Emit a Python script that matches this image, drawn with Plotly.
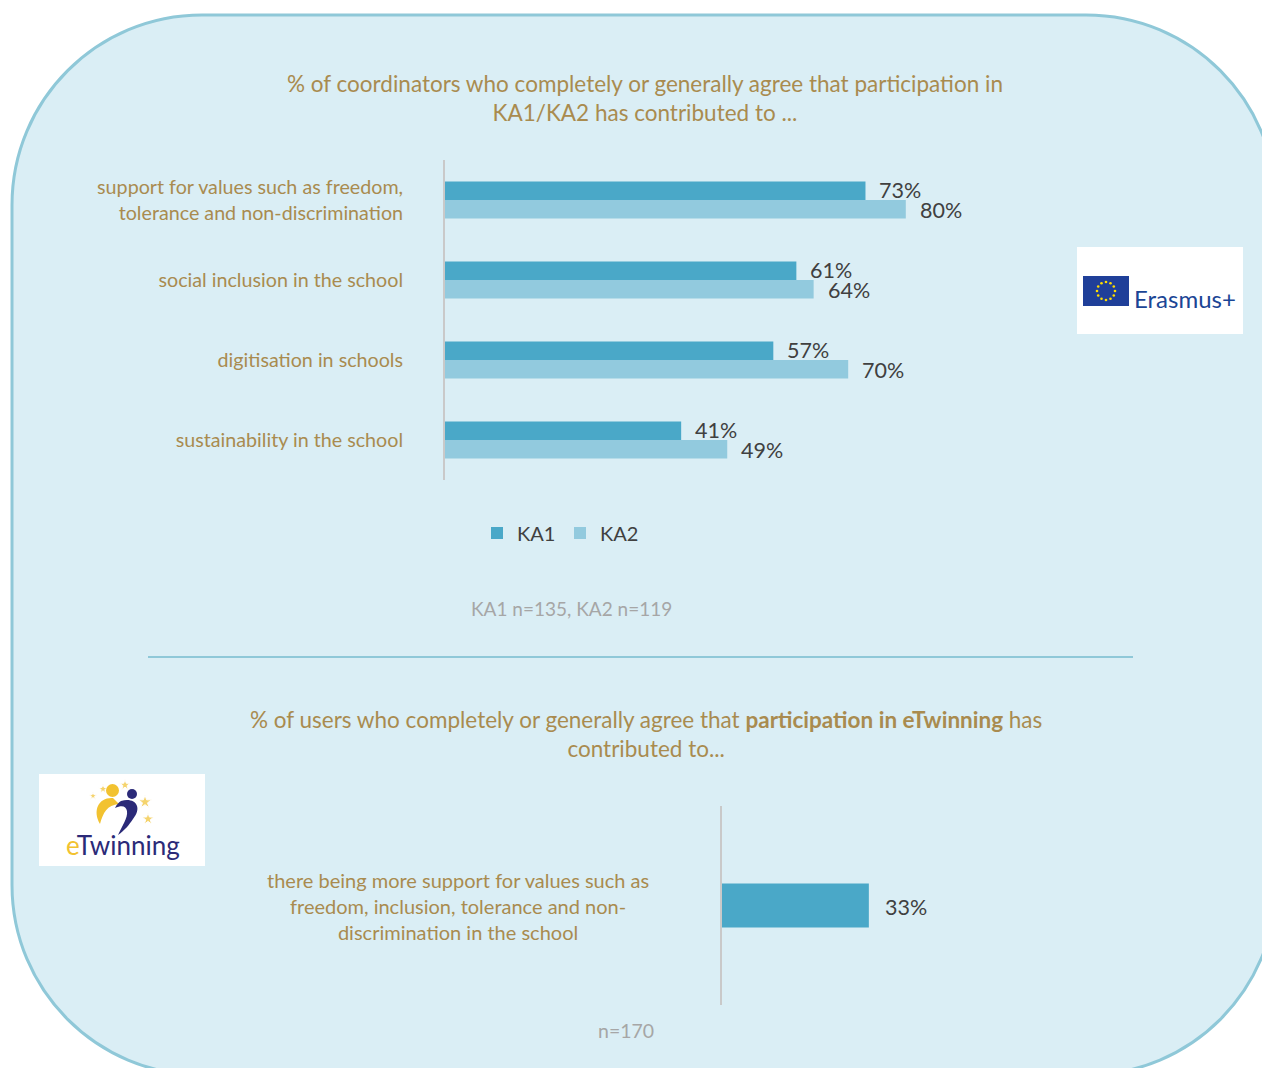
import math
import plotly.graph_objects as go

W, H = 1262, 1068

# ---- data ----
categories = [
    "support for values such as freedom,<br>tolerance and non-discrimination",
    "social inclusion in the school",
    "digitisation in schools",
    "sustainability in the school",
]
ka1 = [73, 61, 57, 41]
ka2 = [80, 64, 70, 49]

et_category = ["there being more support for values such as<br>freedom, inclusion, tolerance and non-<br>discrimination in the school"]
et_values = [33]

GOLD = "#a98b4f"
DARK = "#404040"
GREY = "#a6a6a6"
KA1_C = "#4aa8c8"
KA2_C = "#92cade"
FONT = "Lato"


def px(x):
    return x / W


def py(y):
    return 1 - y / H


def path(cmds):
    """Build an SVG path in paper coords from pixel-space commands."""
    out = []
    for c in cmds:
        if isinstance(c, str):
            out.append(c)
        else:
            out.append(f"{px(c[0]):.5f},{py(c[1]):.5f}")
    return " ".join(out)


def rounded_rect(x0, y0, x1, y1, r):
    k = 0.5523 * r
    return path([
        "M", (x0 + r, y0), "L", (x1 - r, y0),
        "C", (x1 - r + k, y0), (x1, y0 + r - k), (x1, y0 + r),
        "L", (x1, y1 - r),
        "C", (x1, y1 - r + k), (x1 - r + k, y1), (x1 - r, y1),
        "L", (x0 + r, y1),
        "C", (x0 + r - k, y1), (x0, y1 - r + k), (x0, y1 - r),
        "L", (x0, y0 + r),
        "C", (x0, y0 + r - k), (x0 + r - k, y0), (x0 + r, y0), "Z",
    ])


fig = go.Figure()

# ---- Erasmus+ chart ----
fig.add_trace(go.Bar(
    y=categories, x=ka1, name="KA1", orientation="h",
    marker=dict(color=KA1_C, line=dict(width=0)),
    xaxis="x", yaxis="y", hoverinfo="skip",
))
fig.add_trace(go.Bar(
    y=categories, x=ka2, name="KA2", orientation="h",
    marker=dict(color=KA2_C, line=dict(width=0)),
    xaxis="x", yaxis="y", hoverinfo="skip",
))

# ---- eTwinning chart ----
fig.add_trace(go.Bar(
    y=et_category, x=et_values, orientation="h", width=0.22,
    marker=dict(color=KA1_C, line=dict(width=0)),
    xaxis="x2", yaxis="y2", showlegend=False, hoverinfo="skip",
))

annotations = []
for cat, v1, v2 in zip(categories, ka1, ka2):
    annotations.append(dict(x=v1, y=cat, xref="x", yref="y", text=f"{v1}%",
                            showarrow=False, xanchor="left", xshift=12, yshift=10,
                            font=dict(size=21.5, color=DARK, family=FONT)))
    annotations.append(dict(x=v2, y=cat, xref="x", yref="y", text=f"{v2}%",
                            showarrow=False, xanchor="left", xshift=12, yshift=-10,
                            font=dict(size=21.5, color=DARK, family=FONT)))
for cat, v in zip(et_category, et_values):
    annotations.append(dict(x=v, y=cat, xref="x2", yref="y2", text=f"{v}%",
                            showarrow=False, xanchor="left", xshift=14, yshift=-1,
                            font=dict(size=21.5, color=DARK, family=FONT)))
    annotations.append(dict(x=px(458), y=py(906), xref="paper", yref="paper",
                            text=cat, showarrow=False, align="center",
                            xanchor="center", yanchor="middle",
                            font=dict(size=20, color=GOLD, family=FONT)))

# titles and notes
annotations += [
    dict(x=px(645), y=py(98), xref="paper", yref="paper", showarrow=False,
         text="% of coordinators who completely or generally agree that participation in<br>KA1/KA2 has contributed to ...",
         font=dict(size=22.5, color=GOLD, family=FONT), align="center",
         xanchor="center", yanchor="middle"),
    dict(x=px(571), y=py(608), xref="paper", yref="paper", showarrow=False,
         text="KA1 n=135, KA2 n=119", font=dict(size=19, color=GREY, family=FONT),
         xanchor="center", yanchor="middle"),
    dict(x=px(646), y=py(734), xref="paper", yref="paper", showarrow=False,
         text="% of users who completely or generally agree that <b>participation in eTwinning</b> has<br>contributed to...",
         font=dict(size=22.5, color=GOLD, family=FONT), align="center",
         xanchor="center", yanchor="middle"),
    dict(x=px(626), y=py(1030), xref="paper", yref="paper", showarrow=False,
         text="n=170", font=dict(size=19.5, color=GREY, family=FONT),
         xanchor="center", yanchor="middle"),
    # logo wordmarks
    dict(x=px(1132), y=py(298), xref="paper", yref="paper", showarrow=False,
         text="Erasmus+", font=dict(size=24, color="#1b4595", family=FONT),
         xanchor="left", yanchor="middle"),
    dict(x=px(123), y=py(845), xref="paper", yref="paper", showarrow=False,
         text="<span style='color:#f2c230'>e</span>Twinning",
         font=dict(size=26, color="#2b2a78", family=FONT),
         xanchor="center", yanchor="middle"),
]

shapes = [
    # rounded panel
    dict(type="path", xref="paper", yref="paper", layer="below",
         path=rounded_rect(12, 15, 1276, 1075, 190),
         fillcolor="#daeef5", line=dict(color="#8fc8d8", width=3)),
    # divider
    dict(type="line", xref="paper", yref="paper", layer="below",
         x0=px(148), x1=px(1133), y0=py(657), y1=py(657),
         line=dict(color="#8fc8d8", width=2)),
    # Erasmus+ logo
    dict(type="rect", xref="paper", yref="paper", layer="below",
         x0=px(1077), x1=px(1243), y0=py(334), y1=py(247),
         fillcolor="white", line=dict(width=0)),
    dict(type="rect", xref="paper", yref="paper", layer="below",
         x0=px(1083), x1=px(1129), y0=py(306), y1=py(276),
         fillcolor="#1f3f99", line=dict(width=0)),
    # eTwinning logo
    dict(type="rect", xref="paper", yref="paper", layer="below",
         x0=px(39), x1=px(205), y0=py(866), y1=py(774),
         fillcolor="white", line=dict(width=0)),
    dict(type="path", xref="paper", yref="paper", layer="above",
         path=path(["M", (113, 798), "C", (99, 797), (92, 810), (100, 824),
                    "C", (103, 813), (107, 805), (119, 804), "Z"]),
         fillcolor="#f2c230", line=dict(width=0)),
    dict(type="path", xref="paper", yref="paper", layer="above",
         path=path(["M", (121, 801), "C", (135, 797), (143, 807), (133, 819),
                    "C", (129, 825), (125, 830), (118, 835),
                    "C", (122, 826), (128, 818), (127, 811),
                    "C", (126, 806), (122, 805), (115, 808),
                    "C", (117, 804), (119, 802), (121, 801), "Z"]),
         fillcolor="#2b2a78", line=dict(width=0)),
    dict(type="circle", xref="paper", yref="paper", layer="above",
         x0=px(106), x1=px(119), y0=py(797), y1=py(784),
         fillcolor="#f2c230", line=dict(width=0)),
    dict(type="circle", xref="paper", yref="paper", layer="above",
         x0=px(127), x1=px(137), y0=py(799), y1=py(789),
         fillcolor="#2b2a78", line=dict(width=0)),
]

# decorative stars for both logos, drawn on a full-page pixel-space axis pair
star_x = [1106 + 9 * math.cos(2 * math.pi * i / 12) for i in range(12)]
star_y = [291 + 9 * math.sin(2 * math.pi * i / 12) for i in range(12)]
fig.add_trace(go.Scatter(
    x=star_x, y=star_y, mode="markers", xaxis="x3", yaxis="y3",
    marker=dict(symbol="circle", size=2.6, color="#ffdd00"),
    showlegend=False, hoverinfo="skip",
))
fig.add_trace(go.Scatter(
    x=[93, 103, 125, 145, 148], y=[796, 789, 785, 802, 819],
    mode="markers", xaxis="x3", yaxis="y3",
    marker=dict(symbol="star", size=[6, 7, 8, 10, 9], color="#f2c230"),
    showlegend=False, hoverinfo="skip",
))

fig.update_layout(
    width=W, height=H,
    margin=dict(l=0, r=0, t=0, b=0),
    paper_bgcolor="white",
    plot_bgcolor="rgba(0,0,0,0)",
    font=dict(family=FONT, color=DARK),
    barmode="group", bargap=0.54, bargroupgap=0,
    showlegend=True,
    legend=dict(orientation="h", x=px(477), y=py(533), xanchor="left", yanchor="middle",
                font=dict(size=20, color=DARK, family=FONT),
                bgcolor="rgba(0,0,0,0)", itemwidth=30, traceorder="normal",
                entrywidth=38, entrywidthmode="pixels"),
    xaxis=dict(domain=[px(445), px(1021)], range=[0, 100], visible=False,
               anchor="y", fixedrange=True),
    yaxis=dict(domain=[py(480), py(160)], type="category", autorange="reversed",
               showline=True, linecolor="#c9c9c9", linewidth=2,
               showgrid=False, ticks="", ticklabelstandoff=36,
               tickfont=dict(size=19.7, color=GOLD, family=FONT), anchor="x"),
    xaxis2=dict(domain=[px(722), px(1167)], range=[0, 100], visible=False,
                anchor="y2", fixedrange=True),
    yaxis2=dict(domain=[py(1005), py(806)], type="category",
                showline=True, linecolor="#c9c9c9", linewidth=2,
                showgrid=False, ticks="", showticklabels=False, anchor="x2"),
    xaxis3=dict(domain=[0, 1], range=[0, W], visible=False, anchor="y3", fixedrange=True),
    yaxis3=dict(domain=[0, 1], range=[H, 0], visible=False, anchor="x3", fixedrange=True),
    annotations=annotations,
    shapes=shapes,
)

fig.write_html("out.html")
